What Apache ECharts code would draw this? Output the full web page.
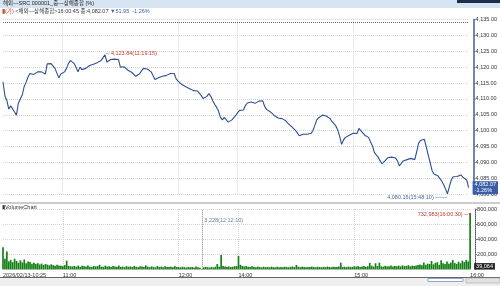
<!DOCTYPE html>
<html>
<head>
<meta charset="utf-8">
<script src="https://cdn.jsdelivr.net/npm/echarts@6/dist/echarts.min.js"></script>
<style>
html, body { margin: 0; padding: 0; background: #fff; }
#main { width: 500px; height: 286px; }
</style>
</head>
<body>
<div id="main"></div>
<script>
// minute slots: opening auction, morning session, afternoon session (KST)
var times = ['10:25'];
function addRange(h0, m0, h1, m1) {
  for (var t = h0 * 60 + m0; t <= h1 * 60 + m1; t++) {
    var h = Math.floor(t / 60), m = t % 60;
    times.push(h + ':' + (m < 10 ? '0' : '') + m);
  }
}
addRange(10, 30, 12, 30);
addRange(14, 0, 16, 0);

var labelTimes = ['10:25', '11:00', '12:00', '14:00', '15:00', '16:00'];
var gridTimes = ['11:00', '12:00', '14:00', '15:00'];

var price = [
  4115.4, 4110.9, 4109.5, 4106.8, 4107.8, 4108.4, 4105.9, 4104.9, 4108.7, 4110.0,
  4111.2, 4113.9, 4115.2, 4116.9, 4118.0, 4117.7, 4117.7, 4118.3, 4118.5, 4118.1,
  4118.5, 4118.8, 4117.8, 4121.0, 4121.1, 4121.1, 4121.0, 4119.6, 4118.1, 4116.6,
  4117.8, 4117.4, 4118.5, 4119.6, 4121.1, 4122.1, 4121.8, 4121.1, 4119.9, 4118.5,
  4120.0, 4119.2, 4119.1, 4119.6, 4120.1, 4120.5, 4120.7, 4120.9, 4121.0, 4121.4,
  4121.7, 4122.1, 4122.7, 4123.84, 4121.6, 4121.9, 4122.4, 4122.7, 4122.5, 4122.3,
  4122.4, 4120.0, 4119.6, 4120.1, 4119.6, 4119.0, 4118.7, 4118.3, 4117.8, 4117.1,
  4117.3, 4117.9, 4118.8, 4119.6, 4119.2, 4119.4, 4119.2, 4118.5, 4118.1, 4116.1,
  4116.3, 4116.7, 4117.0, 4117.1, 4117.2, 4117.4, 4117.7, 4118.0, 4118.5, 4118.0,
  4116.3, 4115.6, 4115.5, 4114.5, 4114.1, 4113.8, 4113.5, 4113.2, 4113.0, 4112.6,
  4112.3, 4112.5, 4112.6, 4111.1, 4110.1, 4109.7, 4110.8, 4111.7, 4110.8, 4109.5,
  4108.3, 4107.4, 4106.2, 4104.2, 4103.4, 4104.2, 4103.7, 4102.7, 4102.8, 4103.4,
  4104.0, 4104.8, 4105.7, 4106.4, 4106.3, 4106.5, 4107.9, 4108.7, 4109.0, 4109.0,
  4108.7, 4108.6, 4108.9, 4109.3, 4109.9, 4109.4, 4107.6, 4106.7, 4106.3, 4105.9,
  4105.3, 4104.8, 4104.5, 4104.0, 4103.4, 4103.8, 4104.1, 4103.1, 4102.4, 4101.9,
  4101.3, 4100.8, 4100.1, 4099.3, 4098.4, 4098.6, 4098.9, 4099.2, 4098.9, 4098.7,
  4099.1, 4099.9, 4101.5, 4103.3, 4104.0, 4104.5, 4104.9, 4104.9, 4104.6, 4104.2,
  4103.8, 4102.9, 4102.2, 4101.5, 4100.2, 4098.2, 4095.7, 4097.1, 4097.9, 4098.2,
  4098.6, 4098.8, 4099.2, 4099.1, 4099.1, 4100.7, 4100.0, 4099.3, 4098.6, 4098.3,
  4097.9, 4096.5, 4095.3, 4093.2, 4092.4, 4091.7, 4090.5, 4089.6, 4089.3, 4090.8,
  4091.5, 4091.8, 4091.7, 4091.6, 4091.4, 4090.6, 4088.9, 4089.5, 4090.5, 4090.9,
  4090.9, 4090.9, 4091.3, 4090.9, 4090.9, 4093.3, 4096.0, 4096.9, 4097.1, 4097.3,
  4094.9, 4092.4, 4090.0, 4087.5, 4086.4, 4086.1, 4085.8, 4085.3, 4084.2, 4083.1,
  4081.7, 4080.16, 4082.4, 4084.5, 4085.5, 4085.7, 4085.6, 4085.8, 4086.1, 4085.4,
  4085.0, 4084.5, 4082.07
];

var volume = [
  293000, 140000, 235000, 105000, 125000, 95000, 140000, 110000, 88000, 120000,
  92000, 130000, 80000, 105000, 96000, 75000, 88000, 70000, 82000, 64000,
  76000, 58000, 70000, 62000, 52000, 66000, 55000, 48000, 60000, 50000,
  46000, 42000, 55000, 115000, 45000, 40000,
  38000, 44000, 35000, 50000, 32000, 46000, 40000, 36000, 52000, 34000,
  30000, 45000, 38000, 42000, 60000, 35000, 33000, 48000, 36000, 40000,
  30000, 44000, 38000, 35000, 50000, 32000, 36000, 28000, 42000, 34000,
  38000, 30000, 45000, 33000, 28000, 40000, 36000, 30000, 52000, 34000,
  28000, 38000, 32000, 26000, 44000, 30000, 36000, 28000, 40000, 32000,
  30000, 35000, 28000, 42000, 30000,
  30000, 26000, 34000, 28000, 24000, 32000, 27000, 30000, 25000, 36000,
  28000, 22000, 3228, 26000, 32000, 28000, 24000, 30000, 26000, 34000,
  70000, 35000, 191000, 45000, 38000, 32000, 36000, 30000, 34000, 40000, 44000,
  177000, 60000, 45000, 38000, 42000, 35000, 30000, 40000, 33000, 28000,
  36000, 30000, 26000, 34000, 29000, 32000, 27000, 35000, 30000, 25000,
  33000, 28000, 31000, 26000, 34000, 29000, 27000, 32000, 38000, 30000,
  57000, 33000, 28000, 35000, 30000, 26000, 32000, 29000, 36000, 30000,
  27000, 34000, 30000, 28000, 33000, 29000, 36000, 31000, 27000, 35000,
  30000, 32000, 38000, 88000, 30000, 34000, 29000, 36000, 32000, 30000, 40000,
  36000, 42000, 30000, 38000, 45000, 33000, 40000, 85000, 48000, 36000,
  80000, 44000, 88000, 40000, 35000, 46000, 38000, 42000, 50000, 36000,
  44000, 40000, 48000, 38000, 52000, 42000, 45000, 55000, 40000, 48000,
  44000, 52000, 58000,
  65000, 55000, 90000, 60000, 75000, 70000, 110000, 65000, 85000, 95000,
  60000, 120000, 80000, 70000, 105000, 75000, 90000, 125000, 85000, 70000,
  100000, 80000, 115000, 95000, 125000, 105000,
  732983
];

var prevClose = 4134.02;
var lastPrice = 4082.07;
var lastVolume = 39064;

var FONT = "'Liberation Sans','Noto Sans CJK KR',sans-serif";
var gridLine = { type: 'dotted', color: '#d6d6d6', width: 1 };
var clear = 'rgba(0,0,0,0)';

function showLabel(idx, val) { return labelTimes.indexOf(val) >= 0; }
function showGrid(idx, val) { return gridTimes.indexOf(val) >= 0; }
function fmt2(v) { return v.toLocaleString('en-US', { minimumFractionDigits: 2, maximumFractionDigits: 2 }); }

var option = {
  animation: false,
  backgroundColor: '#fff',
  textStyle: { fontFamily: FONT },
  grid: [
    { left: 3, right: 29, top: 19.4, height: 174.9 },
    { left: 3, right: 29, top: 209, height: 60.3 }
  ],
  xAxis: [
    {
      type: 'category', gridIndex: 0, data: times, boundaryGap: false,
      axisLine: { show: false }, axisTick: { show: false }, axisLabel: { show: false },
      splitLine: { show: true, interval: showGrid, lineStyle: gridLine }
    },
    {
      type: 'category', gridIndex: 1, data: times, boundaryGap: false,
      axisLine: { lineStyle: { color: '#d0d0d0' } }, axisTick: { show: false },
      axisLabel: {
        interval: showLabel, align: 'left', fontSize: 5.5, color: '#333', margin: 3,
        formatter: function (v) { return v === '10:25' ? '2026/02/13-10:25' : v; }
      },
      splitLine: { show: true, interval: showGrid, lineStyle: gridLine }
    }
  ],
  yAxis: [
    {
      type: 'value', gridIndex: 0, position: 'right', offset: 5,
      min: 4080, max: 4135, interval: 5,
      axisLine: { show: true, lineStyle: { color: '#3d5f9f', width: 1.5 } },
      axisTick: { show: true, length: 2, lineStyle: { color: '#777' } },
      axisLabel: { fontSize: 5.5, color: '#333', margin: 2, formatter: fmt2 },
      splitLine: { lineStyle: gridLine }
    },
    {
      type: 'value', gridIndex: 1, position: 'right', offset: 5,
      min: 0, max: 800000, interval: 200000,
      axisLine: { show: true, lineStyle: { color: '#555', type: 'dotted' } },
      axisTick: { show: true, length: 2, lineStyle: { color: '#777' } },
      axisLabel: {
        fontSize: 5.5, color: '#333', margin: 2, showMinLabel: false,
        formatter: function (v) { return v.toLocaleString('en-US'); }
      },
      splitLine: { lineStyle: gridLine }
    }
  ],
  series: [
    {
      name: '상해종합', type: 'line', xAxisIndex: 0, yAxisIndex: 0,
      data: price, symbol: 'none',
      lineStyle: { color: '#2d4f94', width: 1.1 },
      markLine: {
        symbol: 'none', silent: true,
        data: [
          { yAxis: prevClose, lineStyle: { type: 'dotted', color: '#666', width: 1 }, label: { show: false } },
          {
            yAxis: lastPrice, lineStyle: { color: clear, width: 0.1 },
            label: {
              show: true, position: 'end', distance: 4, formatter: fmt2(lastPrice) + '\n-1.26%',
              backgroundColor: '#3a5ea8', color: '#fff', fontSize: 5.5, lineHeight: 6,
              padding: [1, 2, 0, 2], fontFamily: FONT, opacity: 1
            }
          }
        ]
      },
      markPoint: {
        symbol: 'rect', symbolSize: 1, itemStyle: { color: clear },
        data: [
          {
            coord: [times[53], 4123.84],
            label: { position: 'right', distance: 0, offset: [0, -1], formatter: '─ 4,123.84(11:19:15)', color: '#c0392b', fontSize: 5.5, fontFamily: FONT }
          },
          {
            coord: [times[231], 4080.16],
            label: { position: 'left', distance: 0, offset: [0, 4], formatter: '4,080.16(15:48:10) ───', color: '#4a6aa0', fontSize: 5.5, fontFamily: FONT }
          }
        ]
      }
    },
    {
      name: 'Volume', type: 'bar', xAxisIndex: 1, yAxisIndex: 1,
      data: volume, barWidth: 1.7,
      itemStyle: { color: '#168016' },
      markLine: {
        symbol: 'none', silent: true,
        data: [
          { xAxis: times[103], lineStyle: { type: 'dotted', color: '#888', width: 1 }, label: { show: false } },
          {
            yAxis: lastVolume, lineStyle: { color: clear, width: 0.1 },
            label: {
              show: true, position: 'end', distance: 4, formatter: lastVolume.toLocaleString('en-US'),
              backgroundColor: '#222', color: '#fff', fontSize: 5.5, padding: [1, 2, 0, 2], fontFamily: FONT, opacity: 1
            }
          }
        ]
      },
      markPoint: {
        symbol: 'rect', symbolSize: 1, itemStyle: { color: clear },
        data: [
          {
            coord: [times[242], 732983], symbol: 'rect', symbolSize: 2, itemStyle: { color: '#c0392b' },
            label: { position: 'left', distance: 1, formatter: '732,983(16:00:30) ─', color: '#c0392b', fontSize: 5.5, fontFamily: FONT }
          },
          {
            coord: [times[103], 3228],
            label: { position: 'right', distance: 2, offset: [0, -49], formatter: '3,228(12:12:10)', color: '#6a7fa8', fontSize: 5.5, fontFamily: FONT }
          }
        ]
      }
    }
  ],
  graphic: [
    { type: 'rect', shape: { x: 0, y: 0, width: 500, height: 8 }, style: { fill: '#d6e4f2' }, silent: true },
    { type: 'rect', shape: { x: 457, y: 0, width: 43, height: 3 }, style: { fill: '#1f2d4d' }, silent: true },
    { type: 'text', x: 3, y: 1, style: { text: '해외—SRC 000001_중—상해종합 (%)', fontSize: 5.5, fill: '#222', fontFamily: FONT } },
    {
      type: 'text', x: 2, y: 9,
      style: {
        text: '{r|▮(가)} {d|<해외—상해종합>16:00:45 종:4,082.07} {b|▼51.95  -1.26%}',
        fontSize: 5.5, fontFamily: FONT,
        rich: {
          r: { fill: '#d04020', fontSize: 5.5, fontFamily: FONT },
          d: { fill: '#333', fontSize: 5.5, fontFamily: FONT },
          b: { fill: '#3a5ea8', fontSize: 5.5, fontFamily: FONT }
        }
      }
    },
    { type: 'rect', shape: { x: 0, y: 202.5, width: 500, height: 1 }, style: { fill: '#9a9a9a' }, silent: true },
    { type: 'text', x: 2, y: 205, style: { text: '▮VolumeChart', fontSize: 5.5, fill: '#333', fontFamily: FONT } },
    { type: 'rect', shape: { x: 0, y: 277, width: 500, height: 1 }, style: { fill: '#666' }, silent: true },
    { type: 'rect', shape: { x: 0, y: 278, width: 500, height: 8 }, style: { fill: '#efefef' }, silent: true },
    { type: 'rect', shape: { x: 428, y: 278.5, width: 35, height: 3 }, style: { fill: '#fff', stroke: '#7a8fb8', lineWidth: 0.8 }, silent: true },
    { type: 'rect', shape: { x: 466, y: 278, width: 34, height: 5 }, style: { fill: '#e2e2e2', stroke: '#999', lineWidth: 0.5 }, silent: true }
  ]
};

var myChart = echarts.init(document.getElementById('main'));
myChart.setOption(option);
</script>
</body>
</html>
